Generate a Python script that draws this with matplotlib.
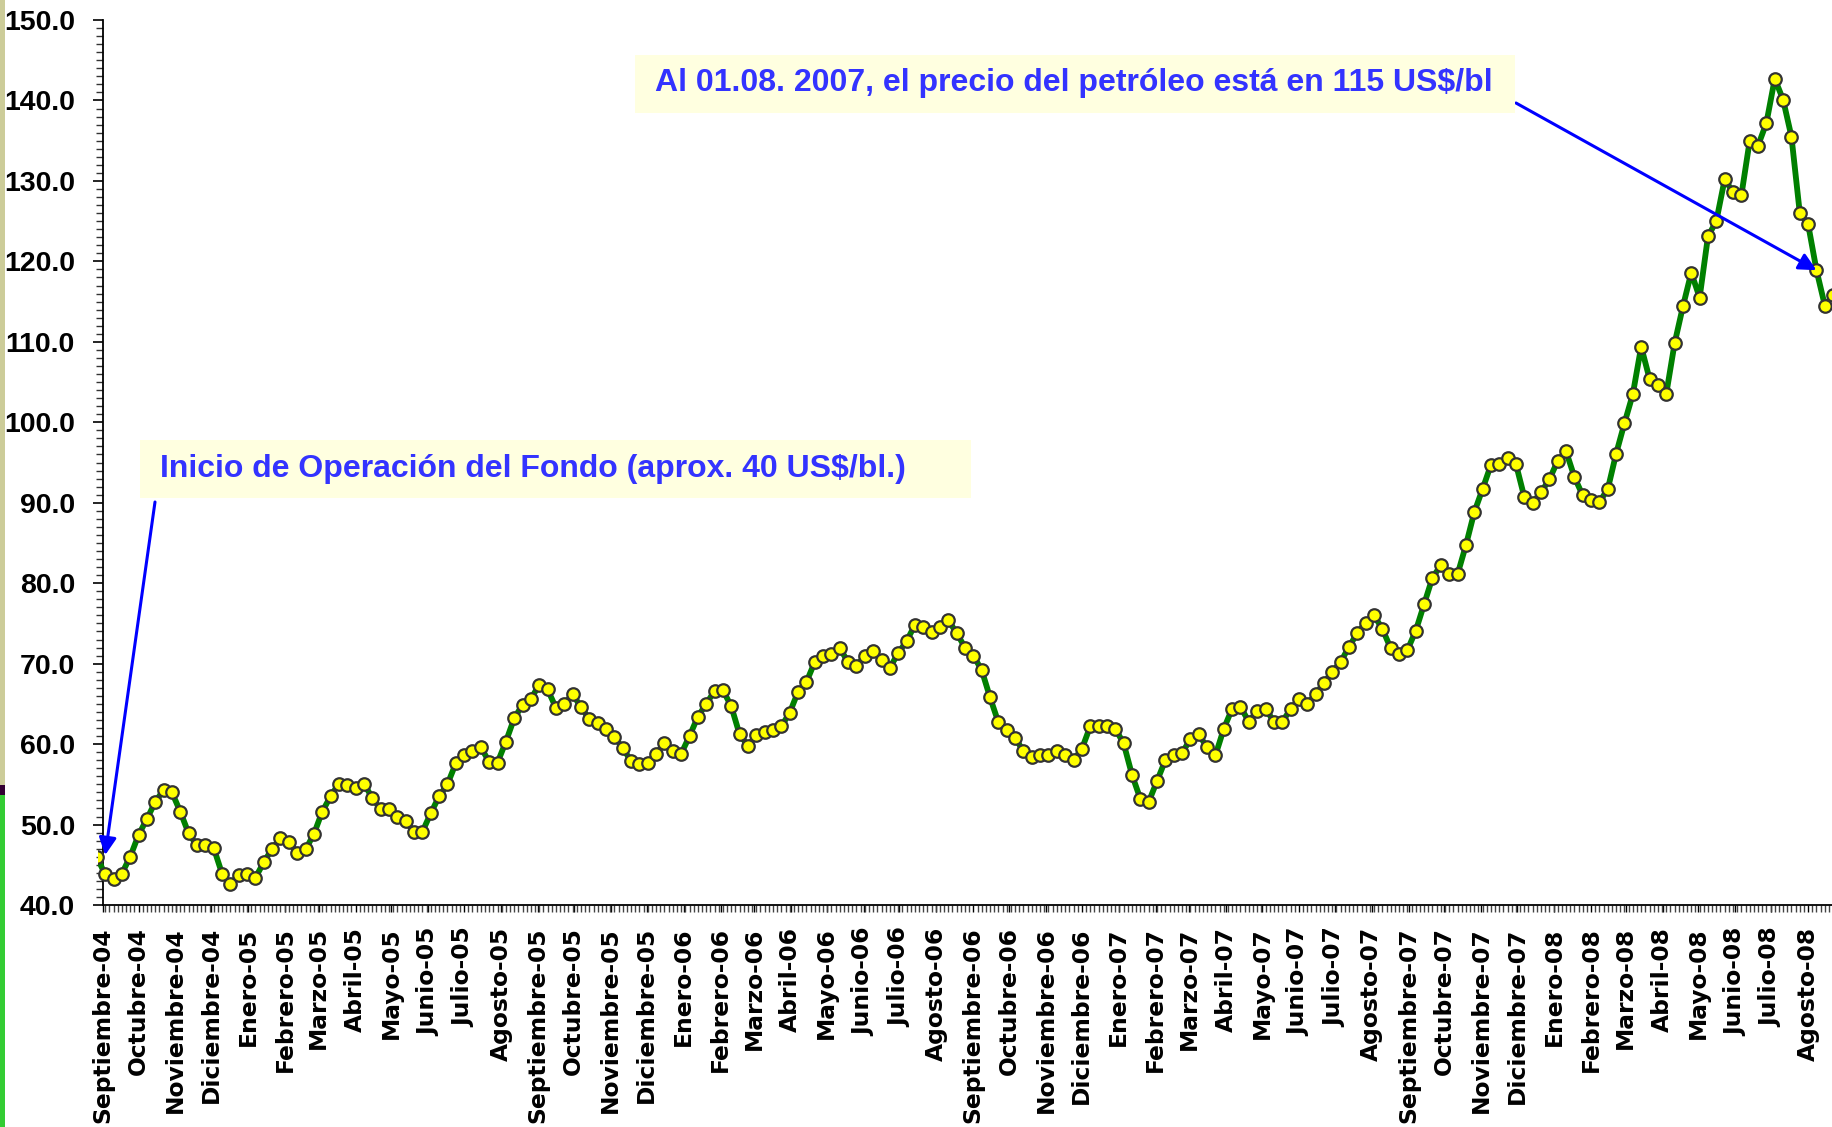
import numpy as np
import matplotlib
matplotlib.use("Agg")
import matplotlib.pyplot as plt
import matplotlib.dates as mdates
from matplotlib.ticker import MultipleLocator, FixedLocator, FormatStrFormatter
from matplotlib.patches import Rectangle

# weekly oil price (US$/bl), first value falls just before the axis start
first_week = np.datetime64("2004-08-27")
prices = [
    46.0,
    43.8, 43.2, 43.9, 46.0, 48.7, 50.7, 52.8, 54.3, 54.0, 51.6,
    48.9, 47.4, 47.5, 47.1, 43.9, 42.6, 43.7, 43.8, 43.4, 45.3,
    47.0, 48.3, 47.8, 46.5, 46.9, 48.8, 51.6, 53.5, 55.1, 54.9,
    54.6, 55.1, 53.3, 51.9, 51.9, 50.9, 50.4, 49.1, 49.1, 51.4,
    53.5, 55.0, 57.6,
    58.6, 59.2, 59.6, 57.8, 57.7, 60.3, 63.2, 64.9, 65.6, 67.4,
    66.8, 64.5, 65.0, 66.2, 64.6, 63.1, 62.6, 61.9, 60.9, 59.5,
    57.9, 57.5, 57.6, 58.8, 60.1, 59.1, 58.8, 61.0, 63.4, 65.0,
    66.6, 66.7, 64.7, 61.2, 59.8, 61.1, 61.5, 61.7, 62.2, 63.9,
    66.5, 67.7,
    70.2, 70.9, 71.2, 71.9, 70.2, 69.7, 71.0, 71.6, 70.4, 69.5,
    71.3, 72.8, 74.8, 74.5, 73.9, 74.5, 75.4, 73.8, 72.0, 71.0,
    69.2, 65.8, 62.7, 61.7, 60.8, 59.1, 58.4, 58.6, 58.6, 59.2,
    58.6, 58.0, 59.4, 62.2, 62.2, 62.2, 61.9, 60.1, 56.2, 53.2,
    52.8, 55.4,
    58.0, 58.7, 58.9, 60.6, 61.2, 59.6, 58.6, 61.9, 64.4, 64.6,
    62.8, 64.1, 64.4, 62.8, 62.8, 64.3,
    65.6, 65.0, 66.2, 67.6, 69.0, 70.2, 72.1, 73.8, 75.1, 76.0,
    74.3, 71.9, 71.2, 71.7, 74.1, 77.4, 80.7, 82.2, 81.2, 81.1,
    84.7, 88.8, 91.7, 94.7, 94.8, 95.6,
    94.8, 90.7, 90.0, 91.3, 92.9, 95.2, 96.4, 93.2, 90.9, 90.4,
    90.1, 91.7, 96.1, 99.9, 103.5, 109.4, 105.4, 104.6, 103.5, 109.8,
    114.4, 118.6, 115.5, 123.1, 125.0, 130.2, 128.6, 128.2, 135.0, 134.4,
    137.2, 142.7, 140.1, 135.5, 126.0, 124.6, 118.9, 114.5, 115.8,
]

meses = ["Enero", "Febrero", "Marzo", "Abril", "Mayo", "Junio", "Julio",
         "Agosto", "Septiembre", "Octubre", "Noviembre", "Diciembre"]
first_month = np.datetime64("2004-09")
last_month = np.datetime64("2008-08")

note_start = "Inicio de Operación del Fondo (aprox. 40 US$/bl.)"
note_end = "Al 01.08. 2007, el precio del petróleo está en 115 US$/bl"
start_idx = 1      # week the fund starts
end_idx = 206      # 01.08.2008

W, H = 1832, 1127


def fx(px):
    return px / W


def fy(py):
    return 1 - py / H


weeks = first_week + np.arange(len(prices)) * np.timedelta64(7, "D")
x = mdates.date2num(weeks)

months = np.arange(first_month, last_month + 1, dtype="datetime64[M]")
month_x = mdates.date2num(months.astype("datetime64[D]"))
month_labels = []
for m in months:
    y, mo = int(str(m)[:4]), int(str(m)[5:7])
    month_labels.append(f"{meses[mo - 1]}-{y % 100:02d}")

x_left = mdates.date2num(np.datetime64("2004-08-28"))
x_right = mdates.date2num(np.datetime64("2008-08-21"))

fig = plt.figure(figsize=(W / 100, H / 100), dpi=100)
ax = fig.add_axes([fx(98), fy(905), 1 - fx(98), fy(20) - fy(905)])

ax.plot(x, prices, color="#008000", lw=4.2, marker="o", ms=9,
        mfc="#FFFF00", mec="#333333", mew=1.6, zorder=3)

ax.set_xlim(x_left, x_right)
ax.set_ylim(40, 150)

for side in ["top", "right"]:
    ax.spines[side].set_visible(False)
ax.spines["left"].set_position(("data", month_x[0]))
ax.spines["bottom"].set_bounds(month_x[0], x_right)
ax.spines["left"].set_linewidth(1.3)
ax.spines["bottom"].set_linewidth(1.3)

# y axis
ax.yaxis.set_major_locator(MultipleLocator(10))
ax.yaxis.set_minor_locator(MultipleLocator(1))
ax.yaxis.set_major_formatter(FormatStrFormatter("%.1f"))
ax.tick_params(axis="y", which="major", length=7, width=1.2, pad=13,
               direction="out")
ax.tick_params(axis="y", which="minor", length=5, width=1.0,
               color="#333333", direction="out")
for lab in ax.get_yticklabels():
    lab.set_fontfamily("Liberation Sans")
    lab.set_fontweight("bold")
    lab.set_fontsize(20.5)

# x axis
ax.xaxis.set_major_locator(FixedLocator(month_x))
ax.set_xticklabels(month_labels, rotation=90, fontfamily="DejaVu Sans",
                   fontweight="bold", fontsize=16.8)
minor_x = np.arange(x[0], x_right, 3.5)
ax.xaxis.set_minor_locator(FixedLocator(minor_x[minor_x >= month_x[0]]))
ax.tick_params(axis="x", which="major", length=5, width=1.0, pad=11,
               direction="out")
ax.tick_params(axis="x", which="minor", length=5, width=1.0,
               color="#444444", direction="out")

# annotation boxes
box_color = "#FFFFE0"
text_color = "#3333FF"
fig.patches.append(Rectangle((fx(140), fy(498)), fx(971) - fx(140),
                             fy(440) - fy(498), transform=fig.transFigure,
                             fc=box_color, ec="none", zorder=1))
fig.text(fx(160), fy(469), note_start, ha="left", va="center",
         fontfamily="Liberation Sans", fontweight="bold", fontsize=23,
         color=text_color)
fig.patches.append(Rectangle((fx(635), fy(113)), fx(1515) - fx(635),
                             fy(55) - fy(113), transform=fig.transFigure,
                             fc=box_color, ec="none", zorder=1))
fig.text(fx(655), fy(83), note_end, ha="left", va="center",
         fontfamily="Liberation Sans", fontweight="bold", fontsize=23,
         color=text_color)

arrow = dict(arrowstyle="-|>", color="#0000FF", lw=2.2,
             mutation_scale=26, shrinkA=0, shrinkB=0)
ax.annotate("", xy=(x[start_idx], prices[start_idx] + 2.4),
            xytext=(fx(155), fy(502)), textcoords="figure fraction",
            arrowprops=arrow, zorder=5, annotation_clip=False)
ax.annotate("", xy=(x[end_idx], prices[end_idx]),
            xytext=(fx(1516), fy(103)), textcoords="figure fraction",
            arrowprops=arrow, zorder=5, annotation_clip=False)

# slide border stripe on the left edge
for y0, y1, c in [(0, 785, "#CCCC99"), (785, 795, "#330033"),
                  (795, H, "#33CC33")]:
    fig.patches.append(Rectangle((0, fy(y1)), fx(5), fy(y0) - fy(y1),
                                 transform=fig.transFigure, fc=c,
                                 ec="none"))

fig.savefig("out.png", dpi=100)
